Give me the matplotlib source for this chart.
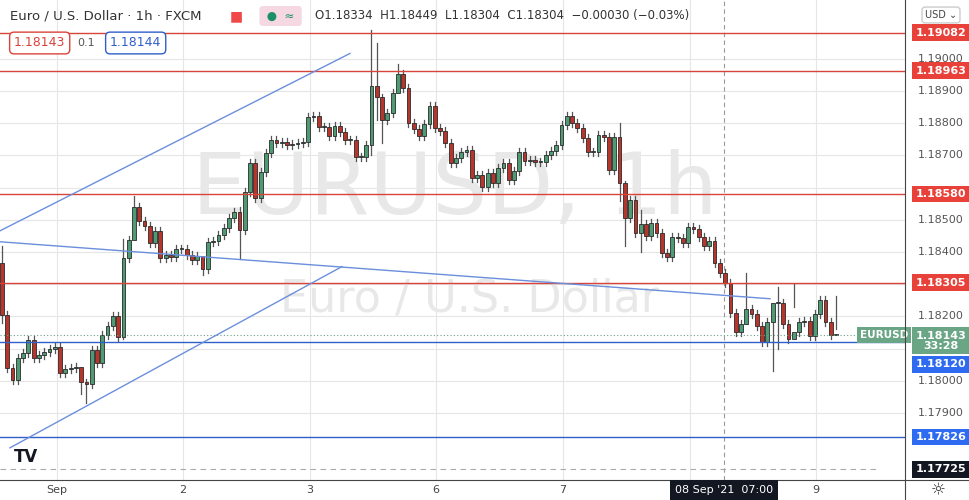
import matplotlib
matplotlib.use("Agg")
import matplotlib.pyplot as plt
from matplotlib.patches import Rectangle
import matplotlib.transforms as mt

closes = [1.18204,1.18040,1.18002,1.18071,1.18086,1.18127,1.18071,1.18080,1.18089,1.18099,
1.18105,1.18024,1.18037,1.18040,1.18043,1.17996,1.17990,1.18096,1.18055,1.18142,
1.18170,1.18201,1.18136,1.18381,1.18437,1.18540,1.18496,1.18481,1.18428,1.18465,
1.18381,1.18391,1.18384,1.18409,1.18409,1.18391,1.18375,1.18388,1.18347,1.18431,
1.18434,1.18453,1.18475,1.18506,1.18524,1.18468,1.18586,1.18676,1.18568,1.18648,
1.18707,1.18748,1.18739,1.18742,1.18732,1.18735,1.18739,1.18742,1.18819,1.18822,
1.18788,1.18788,1.18760,1.18791,1.18773,1.18748,1.18748,1.18695,1.18695,1.18732,
1.18916,1.18881,1.18810,1.18832,1.18894,1.18953,1.18909,1.18801,1.18782,1.18760,
1.18798,1.18853,1.18785,1.18776,1.18739,1.18676,1.18692,1.18711,1.18717,1.18630,
1.18639,1.18602,1.18645,1.18614,1.18661,1.18676,1.18624,1.18652,1.18711,1.18683,
1.18686,1.18680,1.18680,1.18701,1.18714,1.18732,1.18794,1.18822,1.18801,1.18785,
1.18754,1.18711,1.18711,1.18763,1.18757,1.18655,1.18757,1.18614,1.18506,1.18561,
1.18459,1.18487,1.18450,1.18490,1.18459,1.18397,1.18384,1.18447,1.18443,1.18428,
1.18478,1.18471,1.18447,1.18419,1.18434,1.18366,1.18335,1.18304,1.18211,1.18152,
1.18176,1.18223,1.18207,1.18170,1.18120,1.18183,1.18242,1.18242,1.18176,1.18130,
1.18152,1.18183,1.18186,1.18139,1.18207,1.18251,1.18183,1.18142,1.18143]
first_open = 1.18366
# notable highs/lows: index -> (high, low)
wick_extremes = {0: (1.18420, 1.18180), 15: (1.18010, 1.17960), 16: (1.18005, 1.17930),
                 23: (1.18440, 1.18130), 25: (1.18575, 1.18500), 38: (1.18362, 1.18330),
                 45: (1.18540, 1.18380), 70: (1.19089, 1.18700), 71: (1.19049, 1.18810),
                 72: (1.18890, 1.18740), 75: (1.18985, 1.18940), 117: (1.18800, 1.18560),
                 118: (1.18620, 1.18420), 121: (1.18530, 1.18400), 141: (1.18335, 1.18180),
                 146: (1.18210, 1.18030), 147: (1.18290, 1.18100), 150: (1.18300, 1.18230),
                 158: (1.18265, 1.18160)}
wick = 0.00012
h_res = [1.19082, 1.18963, 1.18580, 1.18305]
h_sup = [1.18120, 1.17826]
ticks = [1.17900, 1.18000, 1.18100, 1.18200, 1.18300, 1.18400, 1.18500, 1.18600,
         1.18700, 1.18800, 1.18900, 1.19000]
day_labels = ["Sep", "2", "3", "6", "7", "9"]
day_pix = [57, 183, 310, 436, 563, 816]

W, H = 970, 500
fig = plt.figure(figsize=(9.7, 5), dpi=100)
plot_w = 905
ax = fig.add_axes([0, 20 / H, plot_w / W, 480 / H])
N = len(closes)
step = (836 - 2) / (N - 1)
def px2i(x):
    return (x - 2) / step
y0, y1 = 1.17692, 1.19183
ppx = (y1 - y0) / 480
ax.set_xlim(px2i(0), px2i(plot_w))
ax.set_ylim(y0, y1)
for s in ax.spines.values():
    s.set_visible(False)
ax.set_xticks([]); ax.set_yticks([])

for t in ticks:
    ax.axhline(t, color="#e6e6e6", lw=0.8, zorder=0)
for x in [57, 183, 310, 436, 563, 690, 816]:
    ax.axvline(px2i(x), color="#e6e6e6", lw=0.8, zorder=0)

ax.text(px2i(455), 1.18590, "EURUSD, 1h", fontsize=62, color="#e8e8e8",
        ha="center", va="center", zorder=0)
ax.text(px2i(470), 1.18255, "Euro / U.S. Dollar", fontsize=32, color="#e8e8e8",
        ha="center", va="center", zorder=0)

green, red = "#4e9a72", "#b8352b"
prev = first_open
for i, c in enumerate(closes):
    o = prev
    hi, lo = wick_extremes.get(i, (max(o, c) + wick, min(o, c) - wick))
    col = green if c >= o else red
    ax.plot([i, i], [lo, hi], color="#555555", lw=0.9, zorder=2)
    b = max(abs(c - o), 0.00003)
    ax.add_patch(Rectangle((i - 0.36, min(o, c)), 0.72, b, facecolor=col,
                           edgecolor="#2a2a2a", lw=0.6, zorder=3))
    prev = c

for v in h_res:
    ax.axhline(v, color="#d9443a", lw=1.0, zorder=4)
for v in h_sup:
    ax.axhline(v, color="#2f5fc9", lw=1.0, zorder=4)
ax.axhline(closes[-1], color="#6aa087", lw=0.8, ls=(0, (1, 2)), zorder=4)
ax.axhline(1.17725, xmax=880 / plot_w, color="#aaaaaa", lw=0.8, ls=(0, (5, 4)), zorder=4)
ax.axvline(px2i(724), color="#999999", lw=0.8, ls=(0, (4, 3)), zorder=1)

tl = "#6b8fdc"
ax.plot([px2i(0), px2i(350)], [1.18466, 1.19017], color=tl, lw=1.0, zorder=4)
ax.plot([px2i(0), px2i(770)], [1.18432, 1.18255], color=tl, lw=1.0, zorder=4)
ax.plot([px2i(10), px2i(342)], [1.17792, 1.18355], color=tl, lw=1.0, zorder=4)

# right axis
fig.add_artist(plt.Line2D([plot_w / W] * 2, [0, 1], color="#444444", lw=0.8))
fig.add_artist(plt.Line2D([0, 1], [20 / H] * 2, color="#444444", lw=0.8))
tr = mt.blended_transform_factory(ax.transAxes, ax.transData)
xl = 1 + 36 / plot_w
tag_vals = h_res + [1.18143, 1.18120, 1.17826, 1.17725]
for t in ticks:
    if min(abs(t - v) for v in tag_vals) < 0.00033:
        continue
    ax.text(xl, t, f"{t:.5f}", transform=tr, ha="center", va="center",
            fontsize=8, color="#555555", clip_on=False)
def tag(v, fc, txt=None, ypos=None):
    ax.text(xl, v if ypos is None else ypos, txt or f"{v:.5f}", transform=tr,
            ha="center", va="center", fontsize=8, color="white", fontweight="bold",
            clip_on=False, zorder=10, linespacing=1.0,
            bbox=dict(boxstyle="square,pad=0.3", fc=fc, ec="none"))
for v in h_res:
    tag(v, "#e8413a")
tag(1.18143, "#6aa585", "1.18143\n33:28", ypos=1.18143 - 6 * ppx)
tag(1.18120, "#2f6bf0", ypos=1.18120 - 22 * ppx)
tag(1.17826, "#2f6bf0")
tag(1.17725, "#131722")
ax.text(px2i(884), 1.18143, "EURUSD", ha="center", va="center", fontsize=7.5,
        color="white", fontweight="bold", zorder=10,
        bbox=dict(boxstyle="square,pad=0.3", fc="#6aa585", ec="none"))
fig.text(xl * plot_w / W, 1 - 15 / H, "USD ⌄", fontsize=7, ha="center", va="center",
         color="#444444", bbox=dict(boxstyle="round,pad=0.3", fc="white", ec="#cccccc"))
fig.text(938 / W, 10 / H, "☼", fontsize=12, ha="center", va="center", color="#333333")

for lab, x in zip(day_labels, day_pix):
    fig.text(x / W, 10 / H, lab, fontsize=8, color="#444444", ha="center", va="center")
fig.text(724 / W, 10 / H, "08 Sep '21  07:00", fontsize=8, color="white", ha="center",
         va="center", bbox=dict(boxstyle="square,pad=0.45", fc="#131722", ec="none"))

# header
fig.text(10 / W, 1 - 16 / H, "Euro / U.S. Dollar · 1h · FXCM", fontsize=9.5, color="#333333", va="center")
fig.text(230 / W, 1 - 16 / H, "■", fontsize=10, color="#f04848", va="center")
fig.text(263 / W, 1 - 16 / H, " ●  ≈ ", fontsize=8.5, color="#1a8f6a", va="center",
         bbox=dict(boxstyle="round,pad=0.3", fc="#f5d8e2", ec="none"))
fig.text(315 / W, 1 - 16 / H, "O1.18334  H1.18449  L1.18304  C1.18304  −0.00030 (−0.03%)",
         fontsize=8.5, color="#333333", va="center")
fig.text(14 / W, 1 - 43 / H, "1.18143", fontsize=9, color="#d9443a", va="center",
         bbox=dict(boxstyle="round,pad=0.35", fc="white", ec="#d9443a"))
fig.text(77 / W, 1 - 43 / H, "0.1", fontsize=8, color="#555555", va="center")
fig.text(110 / W, 1 - 43 / H, "1.18144", fontsize=9, color="#2f5fc9", va="center",
         bbox=dict(boxstyle="round,pad=0.35", fc="white", ec="#2f5fc9"))
fig.text(14 / W, 1 - 457 / H, "TV", fontsize=12, fontweight="bold", color="#131722", va="center")

fig.savefig("out.png", dpi=100, facecolor="white")
